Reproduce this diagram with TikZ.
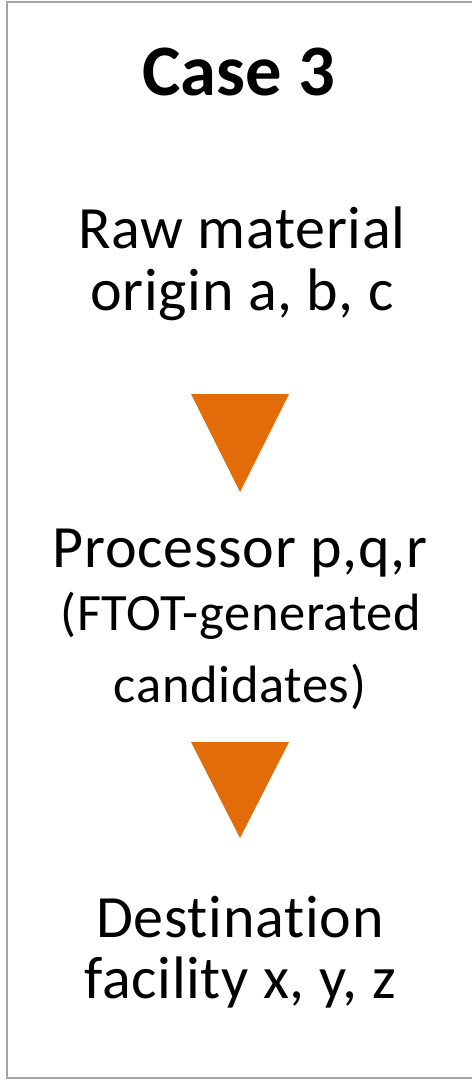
\documentclass[tikz,border=0pt]{standalone}
\usepackage{fontspec}
\setmainfont{Carlito}[Ligatures={NoCommon}]
\newfontfamily\spacedfont{Carlito}[Ligatures={NoCommon},LetterSpace=1.2]
\definecolor{frame}{HTML}{A6A6A6}
\definecolor{arrowor}{HTML}{E36C0A}
\tikzset{
  lbl/.style={anchor=base, inner sep=0pt, font=\spacedfont\fontsize{60}{64}\selectfont},
  sublbl/.style={anchor=base, inner sep=0pt, font=\spacedfont\fontsize{52.5}{56}\selectfont},
  ttl/.style={anchor=base, inner sep=0pt, font=\fontsize{72.5}{80}\selectfont\bfseries},
  tri/.style={fill=arrowor, draw=none}
}
\begin{document}
\begin{tikzpicture}[x=1pt,y=-1pt]
\useasboundingbox (0,0) rectangle (471,1081);
\draw[frame, line width=2pt] (472,2) -- (7,2) -- (7,1078) -- (472,1078);
\node[ttl] (title) at (239,95) {Case 3};
\node[lbl] (raw1) at (242,248) {Raw material};
\node[lbl] (raw2) at (242,310) {origin a, b, c};
\fill[tri] (191,394) -- (289,394) -- (240,492) -- cycle;
\node[lbl] (proc1) at (240,567) {Processor p,q,r};
\node[sublbl] (proc2) at (241,630) {(FTOT-generated};
\node[sublbl] (proc3) at (240,702) {candidates)};
\fill[tri] (191,742) -- (289,742) -- (240,838) -- cycle;
\node[lbl] (dest1) at (240,937) {Destination};
\node[lbl] (dest2) at (240,998) {facility x, y, z};
\end{tikzpicture}
\end{document}
